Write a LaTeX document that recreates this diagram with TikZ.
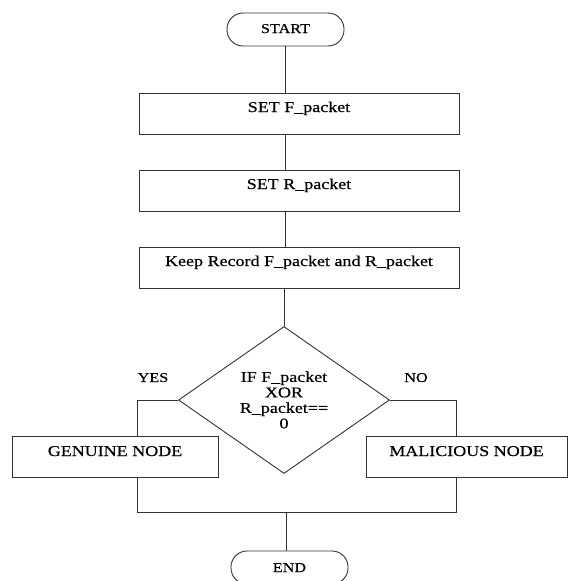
\documentclass[tikz,border=0pt]{standalone}
\usepackage{fontspec}
\setmainfont{Liberation Serif}[FakeStretch=1.2, FakeBold=0.4]
\usetikzlibrary{shapes.geometric}

\tikzset{
  box/.style={draw=black!80, line width=0.9pt, inner sep=0pt, text height=19pt, text depth=22pt, font=\fontsize{15}{15.5}\selectfont},
  terminal/.style={draw=black!80, line width=0.9pt, rounded corners=16pt, minimum width=117pt, inner sep=0pt, text height=20pt, text depth=13pt, font=\fontsize{13.5}{14}\selectfont},
  decision/.style={draw=black!80, line width=0.9pt, diamond, shape aspect=1.435, minimum width=211pt, minimum height=147pt, inner sep=0pt, align=center, font=\fontsize{15}{15.5}\selectfont},
  link/.style={draw=black!80, line width=0.9pt},
  tag/.style={anchor=base, font=\fontsize{13.5}{14}\selectfont}
}

\begin{document}
\begin{tikzpicture}[x=1pt, y=-1pt]
    \useasboundingbox (0,0) rectangle (569,581);
    % steps
    \node [terminal] (start) at (285.5,29.5) {START};
    \node [box, minimum width=320pt] (setf) at (299,113.5) {SET F\_packet};
    \node [box, minimum width=320pt] (setr) at (299,190.5) {SET R\_packet};
    \node [box, minimum width=320pt] (keep) at (299,267.5) {Keep Record F\_packet and R\_packet};
    \node [decision] (check) at (284,400) {IF F\_packet\\XOR\\R\_packet==\\0};
    \node [box, minimum width=206pt, text height=20pt, text depth=21pt] (genuine) at (115,456.5) {GENUINE NODE};
    \node [box, minimum width=201pt, text height=20pt, text depth=21pt] (malicious) at (466.5,456.5) {MALICIOUS NODE};
    \node [terminal, text height=21pt, text depth=12pt] (finish) at (289.5,567.5) {END};
    \node [tag] (yes) at (153,382) {YES};
    \node [tag] (no) at (416,382) {NO};
    % turning points
    \coordinate (lturn) at (137,400);
    \coordinate (rturn) at (456,400);
    \coordinate (merge) at (286,512);
    % connectors
    \draw [link] (start.south) -- (start.south |- setf.north);
    \draw [link] (setf.south -| start) -- (setr.north -| start);
    \draw [link] (setr.south -| start) -- (keep.north -| start);
    \draw [link] (keep.south -| check.north) -- (check.north);
    \draw [link] (check.west) -- (lturn) -- (lturn |- genuine.north);
    \draw [link] (check.east) -- (rturn) -- (rturn |- malicious.north);
    \draw [link] (lturn |- genuine.south) -- (lturn |- merge) -- (rturn |- merge) -- (rturn |- malicious.south);
    \draw [link] (merge) -- (merge |- finish.north);
\end{tikzpicture}
\end{document}
